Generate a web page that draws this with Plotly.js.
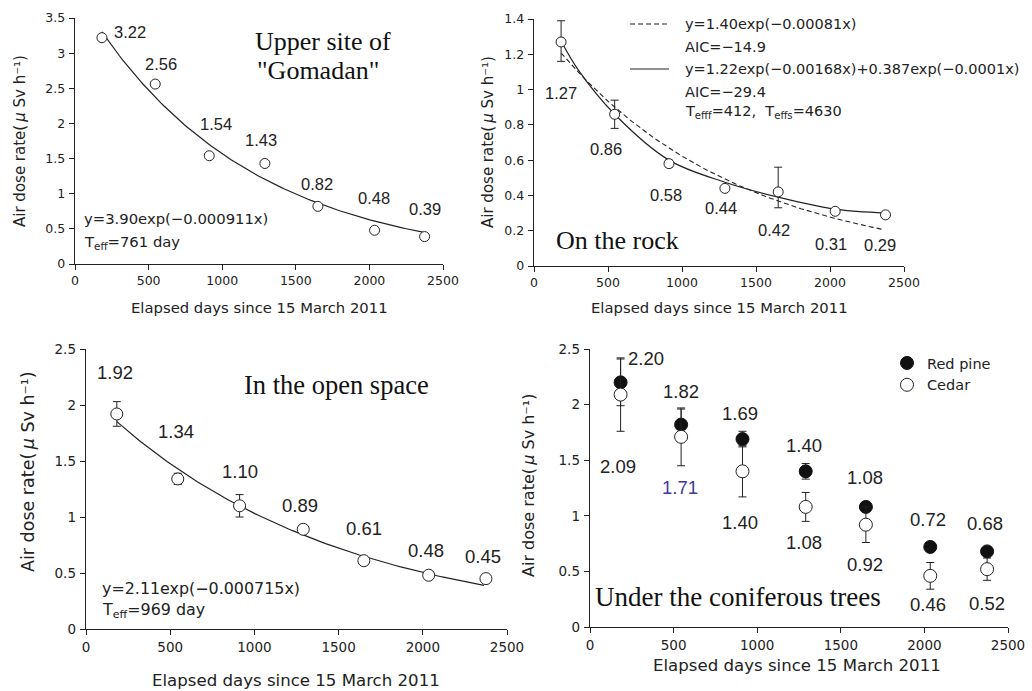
<!DOCTYPE html>
<html><head><meta charset="utf-8">
<script src="https://cdn.plot.ly/plotly-3.0.1.min.js"></script>
<style>html,body{margin:0;padding:0;background:#fff}#chart{width:1032px;height:691px}</style>
</head><body><div id="chart"></div>
<script>
// ---------- data ----------
const days = [183, 545, 912, 1290, 1650, 2035, 2375];
const upperSite = [3.22, 2.56, 1.54, 1.43, 0.82, 0.48, 0.39];
const onRock = [1.27, 0.86, 0.58, 0.44, 0.42, 0.31, 0.29];
const onRockErrPlus = [0.12, 0.08, 0.02, 0.01, 0.14, 0.01, 0.01];
const onRockErrMinus = [0.11, 0.08, 0.02, 0.01, 0.09, 0.01, 0.01];
const openSpace = [1.92, 1.34, 1.10, 0.89, 0.61, 0.48, 0.45];
const openSpaceErr = [0.11, 0.05, 0.10, 0.02, 0.03, 0.02, 0.03];
const redPine = [2.20, 1.82, 1.69, 1.40, 1.08, 0.72, 0.68];
const redPineErr = [0.21, 0.14, 0.07, 0.07, 0.03, 0.02, 0.02];
const cedar = [2.09, 1.71, 1.40, 1.08, 0.92, 0.46, 0.52];
const cedarErr = [0.33, 0.26, 0.23, 0.13, 0.16, 0.12, 0.10];
const xTickVals = [0, 500, 1000, 1500, 2000, 2500];
// fitted models printed in the chart: [a, k]
const upperFit = [3.90, -0.000911];
const rockFitSingle = [1.40, -0.00081];
const openFit = [2.11, -0.000715];
// two-component fit curve on the rock
const rockDoubleDays = [183, 300, 545, 912, 1290, 1650, 2035, 2375];
const rockDoubleCurve = [1.275, 1.11, 0.86, 0.60, 0.475, 0.39, 0.322, 0.30];

// ---------- helpers ----------
const W = 1032, H = 691;
const px = v => v / W, py = v => 1 - v / H;
const INK = '#222';
const SANS = 'DejaVu Sans, sans-serif';
const LBL = 'Liberation Sans, Arial, sans-serif';
const SERIF = 'Liberation Serif, Times New Roman, serif';

function fitCurve(c) {
  const xs = [], ys = [];
  for (let x = days[0]; x <= days[days.length - 1]; x += 20) {
    xs.push(x);
    ys.push(c[0] * Math.exp(c[1] * x));
  }
  return {xs, ys};
}

const f1 = fitCurve(upperFit), f2a = fitCurve(rockFitSingle), f3 = fitCurve(openFit);

const openMarker = s => ({symbol: 'circle', size: s, color: '#fff', line: {color: INK, width: 1}});
const errStyle = {type: 'data', color: INK, thickness: 1, width: 4};

const traces = [
  {x: f1.xs, y: f1.ys, xaxis: 'x', yaxis: 'y', mode: 'lines', line: {color: INK, width: 1.2}, showlegend: false, hoverinfo: 'skip'},
  {x: days, y: upperSite, xaxis: 'x', yaxis: 'y', mode: 'markers', marker: openMarker(10), showlegend: false, cliponaxis: false},

  {x: f2a.xs, y: f2a.ys, xaxis: 'x2', yaxis: 'y2', mode: 'lines', line: {color: INK, width: 1.1, dash: '5px,3px'}, showlegend: false, hoverinfo: 'skip'},
  {x: rockDoubleDays, y: rockDoubleCurve, xaxis: 'x2', yaxis: 'y2', mode: 'lines', line: {color: INK, width: 1.2, shape: 'spline', smoothing: 1}, showlegend: false, hoverinfo: 'skip'},
  {x: days, y: onRock, xaxis: 'x2', yaxis: 'y2', mode: 'markers', marker: openMarker(10), showlegend: false, cliponaxis: false,
   error_y: Object.assign({array: onRockErrPlus, arrayminus: onRockErrMinus, symmetric: false}, errStyle)},

  {x: f3.xs, y: f3.ys, xaxis: 'x3', yaxis: 'y3', mode: 'lines', line: {color: INK, width: 1.2}, showlegend: false, hoverinfo: 'skip'},
  {x: days, y: openSpace, xaxis: 'x3', yaxis: 'y3', mode: 'markers', marker: openMarker(12), showlegend: false, cliponaxis: false,
   error_y: Object.assign({array: openSpaceErr}, errStyle)},

  {x: days, y: redPine, xaxis: 'x4', yaxis: 'y4', mode: 'markers', name: 'Red pine', cliponaxis: false,
   marker: {symbol: 'circle', size: 13, color: '#111', line: {color: '#111', width: 1}},
   error_y: Object.assign({array: redPineErr}, errStyle)},
  {x: days, y: cedar, xaxis: 'x4', yaxis: 'y4', mode: 'markers', name: 'Cedar', cliponaxis: false,
   marker: openMarker(13),
   error_y: Object.assign({array: cedarErr}, errStyle)}
];

function xAx(d0, d1, anchor, fs) {
  return {domain: [px(d0), px(d1)], range: [0, 2500], tickvals: xTickVals, anchor: anchor,
    showgrid: false, zeroline: false, showline: true, linecolor: INK, linewidth: 1.3,
    ticks: 'outside', ticklen: 5, tickwidth: 1, tickcolor: INK,
    tickfont: {family: SANS, size: fs, color: INK}, fixedrange: true};
}
function yAx(top, bot, max, dt, anchor, fs) {
  return {domain: [py(bot), py(top)], range: [0, max], dtick: dt, anchor: anchor,
    showgrid: false, zeroline: false, showline: true, linecolor: INK, linewidth: 1.3,
    ticks: 'outside', ticklen: 5, tickwidth: 1, tickcolor: INK, ticklabelstandoff: 1,
    tickfont: {family: SANS, size: fs, color: INK}, fixedrange: true};
}

const ann = [];
function pAnn(text, x, y, opts) {
  ann.push(Object.assign({xref: 'paper', yref: 'paper', x: px(x), y: py(y), text: text, showarrow: false,
    xanchor: 'center', yanchor: 'middle', font: {family: SANS, size: 15, color: INK}}, opts || {}));
}
function dataLabels(xr, yr, ys, shifts, size, colors) {
  ys.forEach((v, i) => {
    ann.push({xref: xr, yref: yr, x: days[i], y: v, text: v.toFixed(2), showarrow: false,
      xanchor: 'center', yanchor: 'middle', xshift: shifts[i][0], yshift: -shifts[i][1],
      font: {family: LBL, size: size, color: colors ? colors[i] : INK}});
  });
}

// data labels
dataLabels('x', 'y', upperSite, [[28,-6],[6,-20],[7,-32],[-4,-23],[-1,-22],[-1,-32],[0,-28]], 16.5);
dataLabels('x2', 'y2', onRock, [[0,51],[-9,35],[-3,31],[-4,20],[-4,38],[-4,33],[-6,30]], 16.5);
dataLabels('x3', 'y3', openSpace, [[-2,-41],[-2,-47],[0,-34],[-3,-24],[0,-32],[-3,-25],[-3,-22]], 18.5);
dataLabels('x4', 'y4', redPine, [[25,-24],[0,-33],[-2,-26],[-2,-26],[-1,-29],[-2,-27],[-2,-28]], 18.5);
dataLabels('x4', 'y4', cedar, [[-3,72],[-1,51],[-2,51],[-2,36],[-1,40],[-2,29],[0,34]], 18.5,
  [INK, '#3b3b9b', INK, INK, INK, INK, INK]);

// axis titles
const yTitle = 'Air dose rate(\u2009<i>μ</i> Sv h⁻¹)';
const xTitle = 'Elapsed days since 15 March 2011';
pAnn(xTitle, 259, 307, {font: {family: SANS, size: 14.8, color: INK}});
pAnn(yTitle, 20, 141, {textangle: -90, font: {family: SANS, size: 15, color: INK}});
pAnn(xTitle, 719, 307, {font: {family: SANS, size: 14.8, color: INK}});
pAnn(yTitle, 488, 142, {textangle: -90, font: {family: SANS, size: 15, color: INK}});
pAnn(xTitle, 296, 680, {font: {family: SANS, size: 16.6, color: INK}});
pAnn(yTitle, 28, 472, {textangle: -90, font: {family: SANS, size: 17.5, color: INK}});
pAnn(xTitle, 797, 665, {font: {family: SANS, size: 16.6, color: INK}});
pAnn(yTitle, 528, 486, {textangle: -90, font: {family: SANS, size: 16, color: INK}});

// panel titles
const serif = s => ({family: SERIF, size: s, color: '#111'});
pAnn('Upper site of', 323, 42, {font: serif(26)});
pAnn('"Gomadan"', 318, 70, {font: serif(26)});
pAnn('On the rock', 617, 240, {font: serif(26)});
pAnn('In the open space', 336, 385, {font: serif(26.5)});
pAnn('Under the coniferous trees', 738, 597, {font: serif(27)});

// fit equations
pAnn('y=3.90exp(−0.000911x)', 82, 218, {xanchor: 'left', font: {family: SANS, size: 14.8, color: INK}});
pAnn('T<sub>eff</sub>=761 day', 82, 242, {xanchor: 'left', font: {family: SANS, size: 14.8, color: INK}});
pAnn('y=2.11exp(−0.000715x)', 100, 588, {xanchor: 'left', font: {family: SANS, size: 15.9, color: INK}});
pAnn('T<sub>eff</sub>=969 day', 100, 610, {xanchor: 'left', font: {family: SANS, size: 15.9, color: INK}});
const eqF = {family: SANS, size: 14.5, color: INK};
pAnn('y=1.40exp(−0.00081x)', 683, 24, {xanchor: 'left', font: eqF});
pAnn('AIC=−14.9', 683, 47, {xanchor: 'left', font: eqF});
pAnn('y=1.22exp(−0.00168x)+0.387exp(−0.0001x)', 683, 69, {xanchor: 'left', font: eqF});
pAnn('AIC=−29.4', 683, 92, {xanchor: 'left', font: eqF});
pAnn('T<sub>efff</sub>=412,  T<sub>effs</sub>=4630', 683, 112, {xanchor: 'left', font: eqF});

const shapes = [
  {type: 'line', xref: 'paper', yref: 'paper', x0: px(630), x1: px(669), y0: py(24), y1: py(24), line: {color: INK, width: 1.1, dash: '5px,3px'}},
  {type: 'line', xref: 'paper', yref: 'paper', x0: px(630), x1: px(669), y0: py(69), y1: py(69), line: {color: INK, width: 1.2}}
];

const layout = {
  width: W, height: H, margin: {l: 0, r: 0, t: 0, b: 0},
  paper_bgcolor: '#fff', plot_bgcolor: 'rgba(0,0,0,0)',
  xaxis: xAx(75, 443, 'y', 12.5), yaxis: yAx(18, 264, 3.5, 0.5, 'x', 12.5),
  xaxis2: xAx(534, 904, 'y2', 12.5), yaxis2: yAx(19, 266, 1.4, 0.2, 'x2', 12.5),
  xaxis3: xAx(86, 507, 'y3', 13.5), yaxis3: yAx(349, 629, 2.5, 0.5, 'x3', 13.5),
  xaxis4: xAx(590, 1008, 'y4', 13.5), yaxis4: yAx(349, 627, 2.5, 0.5, 'x4', 13.5),
  showlegend: true,
  legend: {x: px(887), y: py(347), xanchor: 'left', yanchor: 'top', bgcolor: 'rgba(0,0,0,0)',
    font: {family: SANS, size: 14.5, color: INK}, itemwidth: 30, tracegroupgap: 0},
  annotations: ann, shapes: shapes, hovermode: false
};

Plotly.newPlot('chart', traces, layout, {staticPlot: true, displayModeBar: false});
</script>
</body></html>
